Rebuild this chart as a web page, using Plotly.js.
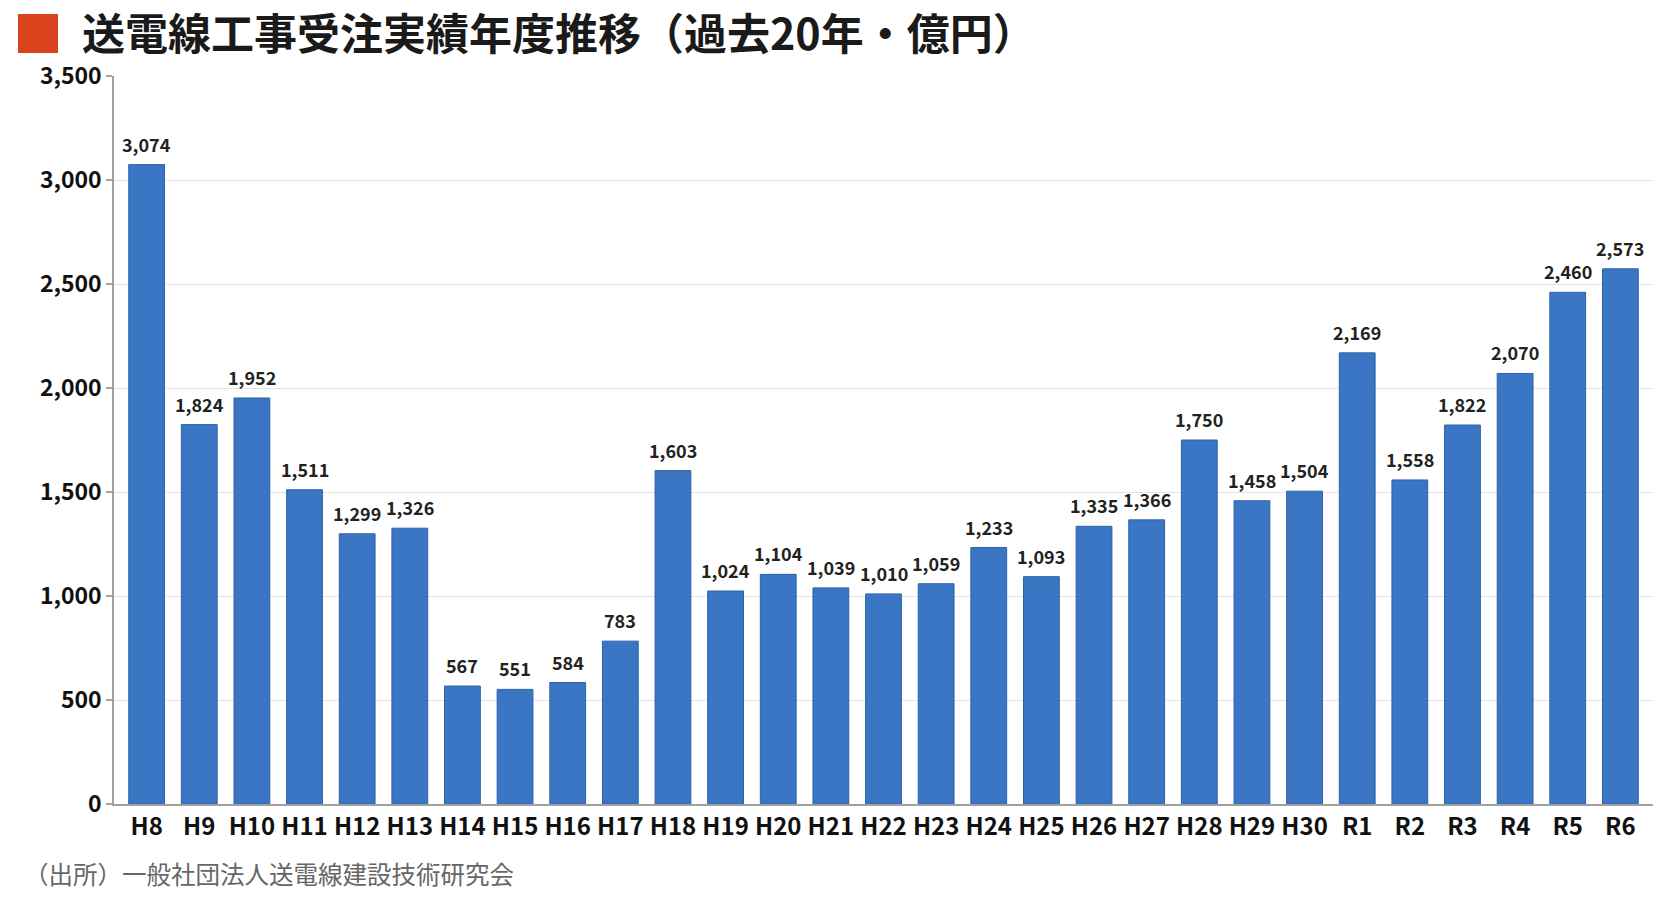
<!DOCTYPE html>
<html>
<head>
<meta charset="utf-8">
<script src="https://cdn.plot.ly/plotly-3.0.1.min.js"></script>
<style>
  html, body { margin: 0; padding: 0; background: #fff; }
  #chart { width: 1665px; height: 899px; }
</style>
</head>
<body>
<div id="chart"></div>
<script>
// 年度 (平成・令和)
const years = [
    'H8', 'H9', 'H10', 'H11', 'H12', 'H13', 'H14', 'H15', 'H16', 'H17',
    'H18', 'H19', 'H20', 'H21', 'H22', 'H23', 'H24', 'H25', 'H26', 'H27',
    'H28', 'H29', 'H30', 'R1', 'R2', 'R3', 'R4', 'R5', 'R6'
];
// 受注実績 (億円)
const orders = [
    3074, 1824, 1952, 1511, 1299, 1326, 567, 551, 584, 783,
    1603, 1024, 1104, 1039, 1010, 1059, 1233, 1093, 1335, 1366,
    1750, 1458, 1504, 2169, 1558, 1822, 2070, 2460, 2573
];
const yTicks = [0, 500, 1000, 1500, 2000, 2500, 3000, 3500];

const FONT = '"Noto Sans CJK JP", "Noto Sans", sans-serif';

const trace = {
    type: 'bar',
    x: years,
    y: orders,
    width: 0.68,
    marker: {
        color: '#3a76c3',
        line: {color: '#2d62a8', width: 1}
    },
    hoverinfo: 'x+y'
};

// value labels above each bar
const valueLabels = years.map((yr, i) => ({
    x: yr,
    y: orders[i],
    xref: 'x',
    yref: 'y',
    text: orders[i].toLocaleString('en-US'),
    showarrow: false,
    yanchor: 'bottom',
    yshift: 6,
    font: {family: FONT, size: 18, color: '#222', weight: 700}
}));

const layout = {
    width: 1665,
    height: 899,
    paper_bgcolor: '#fff',
    plot_bgcolor: '#fff',
    margin: {t: 76, r: 12, b: 95, l: 114},
    font: {family: FONT},
    title: {
        text: '<b>送電線工事受注実績年度推移（過去20年・億円）</b>',
        font: {family: FONT, size: 43, color: '#1a1a1a'},
        xref: 'container',
        yref: 'container',
        x: 82 / 1665,
        xanchor: 'left',
        y: 1 - 35 / 899,
        yanchor: 'middle'
    },
    showlegend: false,
    bargap: 0.32,
    xaxis: {
        type: 'category',
        range: [-0.62, 28.62],
        showline: true,
        linecolor: '#a0a0a0',
        linewidth: 1.5,
        ticks: '',
        showgrid: false,
        tickfont: {family: FONT, size: 24, color: '#111', weight: 700}
    },
    yaxis: {
        range: [0, 3500],
        tickvals: yTicks,
        tickformat: ',',
        showline: true,
        linecolor: '#a0a0a0',
        linewidth: 1.5,
        ticks: 'outside',
        ticklen: 6,
        tickcolor: '#a0a0a0',
        tickwidth: 1.5,
        gridcolor: '#e3e3e3',
        gridwidth: 1,
        zeroline: false,
        tickfont: {family: FONT, size: 23, color: '#111', weight: 700}
    },
    shapes: [
        {
            // red marker square beside the title
            type: 'rect',
            xref: 'paper',
            yref: 'paper',
            x0: (18 - 114) / 1539,
            x1: (58 - 114) / 1539,
            y0: (804 - 53) / 728,
            y1: (804 - 14) / 728,
            fillcolor: '#d9441f',
            line: {width: 0}
        }
    ],
    annotations: valueLabels.concat([
        {
            text: '（出所）一般社団法人送電線建設技術研究会',
            xref: 'paper',
            yref: 'paper',
            x: (22 - 114) / 1539,
            y: (804 - 873) / 728,
            xanchor: 'left',
            yanchor: 'middle',
            showarrow: false,
            font: {family: FONT, size: 24.5, color: '#666'}
        }
    ])
};

Plotly.newPlot('chart', [trace], layout, {
    displayModeBar: false,
    responsive: false
});
</script>
</body>
</html>
